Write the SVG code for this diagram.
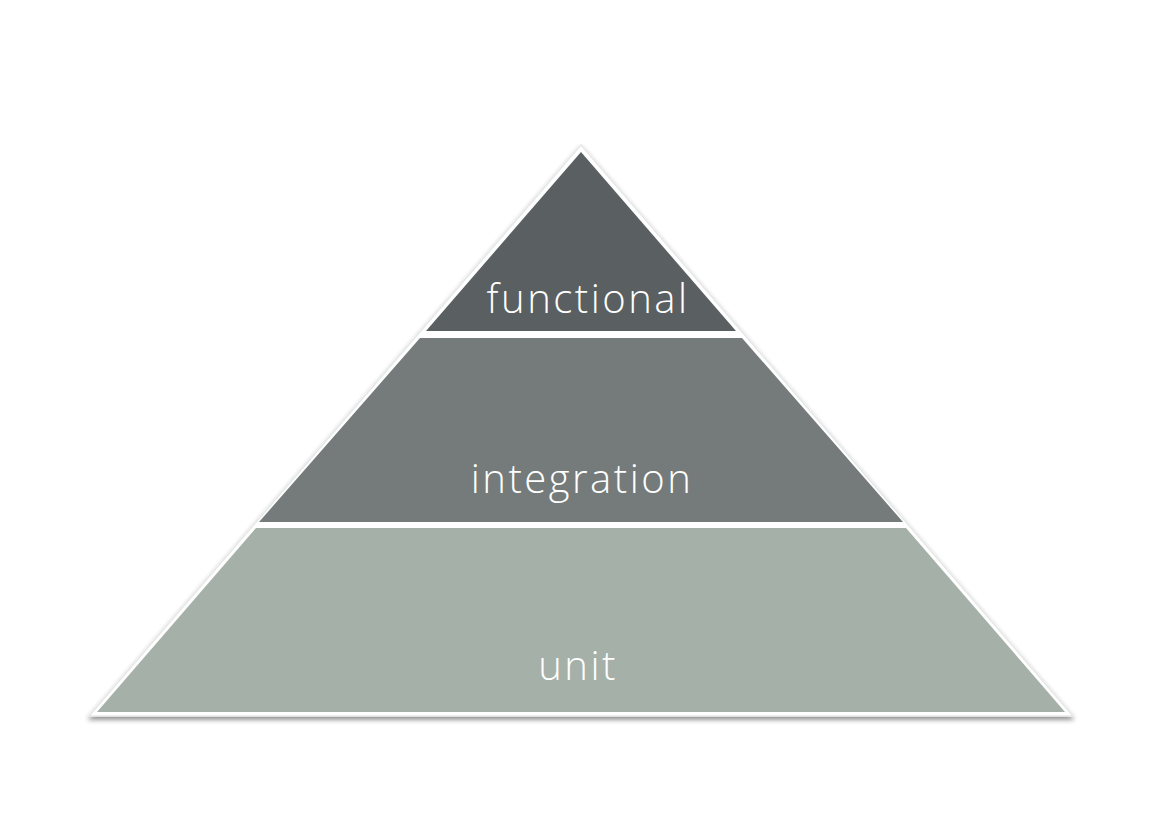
<svg xmlns="http://www.w3.org/2000/svg" width="1169" height="826" viewBox="0 0 1169 826">
  <defs>
    <filter id="sh" x="-10%" y="-10%" width="120%" height="130%">
      <feGaussianBlur in="SourceAlpha" stdDeviation="2.5"/>
      <feOffset dx="0" dy="3" result="b"/>
      <feComponentTransfer><feFuncA type="linear" slope="0.45"/></feComponentTransfer>
      <feMerge><feMergeNode/><feMergeNode in="SourceGraphic"/></feMerge>
    </filter>
  </defs>
  <style>
    .lbl { font-family: "Open Sans", "DejaVu Sans", sans-serif; font-weight: 300; font-size: 40px; fill: #ffffff; text-anchor: middle; letter-spacing: 2.5px; }
  </style>
  <rect width="1169" height="826" fill="#ffffff"/>
  <g id="frame">
    <polygon points="581,145 1073,716 89,716" fill="#ffffff" stroke="#e6e8e7" stroke-width="1.5" filter="url(#sh)"/>
  </g>
  <g id="functional">
    <polygon points="581,152 736,331 426,331" fill="#5a5f62"/>
    <text class="lbl" x="588" y="313">functional</text>
  </g>
  <g id="integration">
    <polygon points="420,338 742,338 903,522 259,522" fill="#747b7a"/>
    <text class="lbl" x="582" y="493">integration</text>
  </g>
  <g id="unit">
    <polygon points="256,528 906,528 1065,712 97,712" fill="#a5b0a9"/>
    <text class="lbl" x="578" y="680">unit</text>
  </g>
  <g id="connectors"/>
</svg>
